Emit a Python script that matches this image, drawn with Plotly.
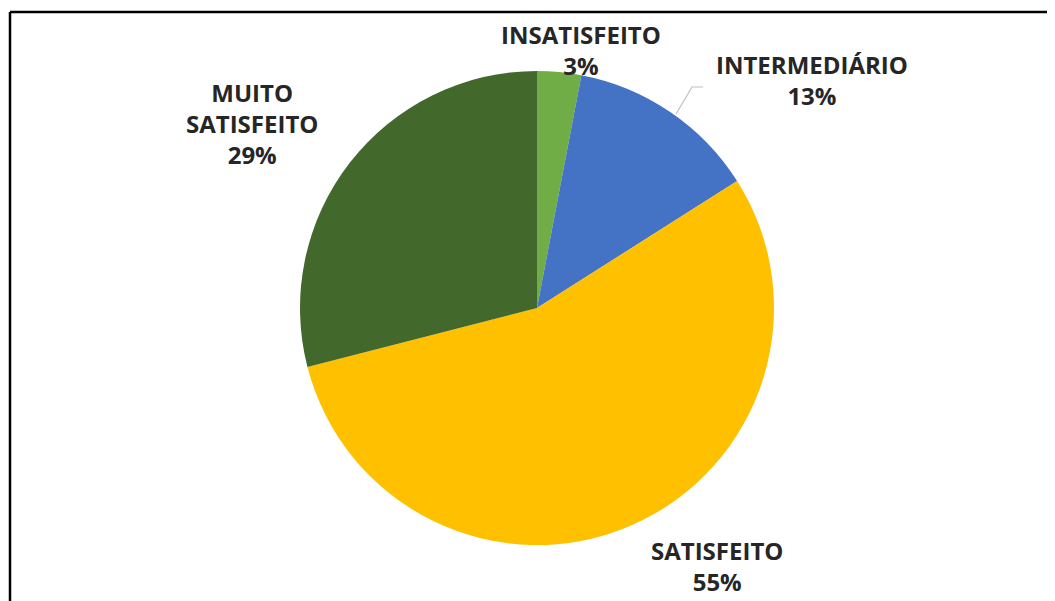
import plotly.graph_objects as go

# Data
categories = ["INSATISFEITO", "INTERMEDIÁRIO", "SATISFEITO", "MUITO SATISFEITO"]
values = [3, 13, 55, 29]
label_lines = ["INSATISFEITO", "INTERMEDIÁRIO", "SATISFEITO", "MUITO<br>SATISFEITO"]
colors = ["#70AD47", "#4472C4", "#FFC000", "#43682B"]

W, H = 1055, 601
OFF = 8  # page body margin

def px(x):
    return (x - OFF) / W

def py(y):
    return 1 - (y - OFF) / H

# pie geometry (screen pixels)
cx, cy, r = 537, 308, 237

fig = go.Figure(go.Pie(
    labels=categories,
    values=values,
    sort=False,
    direction="clockwise",
    rotation=0,
    marker=dict(colors=colors, line=dict(width=0)),
    textinfo="none",
    hoverinfo="label+percent",
    showlegend=False,
    domain=dict(x=[px(cx - r), px(cx + r)], y=[py(cy + r), py(cy - r)]),
))

# label placement (screen pixel centres)
label_pos = [(581, 50), (812, 80), (717, 566), (252, 123)]
total = sum(values)
annotations = []
for txt, v, (x, y) in zip(label_lines, values, label_pos):
    annotations.append(dict(
        x=px(x), y=py(y), xref="paper", yref="paper",
        text=f"{txt}<br>{round(100 * v / total)}%",
        showarrow=False, xanchor="center", yanchor="middle",
        font=dict(family="Open Sans", size=24, color="#262626", weight="bold"),
        align="center",
    ))

shapes = [
    # frame
    dict(type="line", xref="paper", yref="paper", x0=px(10), x1=px(10), y0=py(12), y1=py(620),
         line=dict(color="#000000", width=2.5)),
    dict(type="line", xref="paper", yref="paper", x0=px(10), x1=px(1070), y0=py(12), y1=py(12),
         line=dict(color="#000000", width=2.5)),
    # leader line for INTERMEDIÁRIO
    dict(type="path", xref="paper", yref="paper",
         path=f"M {px(676)},{py(114)} L {px(692)},{py(87)} L {px(703)},{py(87)}",
         line=dict(color="#BFBFBF", width=1.2)),
]

fig.update_layout(
    width=W, height=H,
    margin=dict(l=0, r=0, t=0, b=0),
    paper_bgcolor="white",
    plot_bgcolor="white",
    annotations=annotations,
    shapes=shapes,
)

fig.write_html("out.html")
